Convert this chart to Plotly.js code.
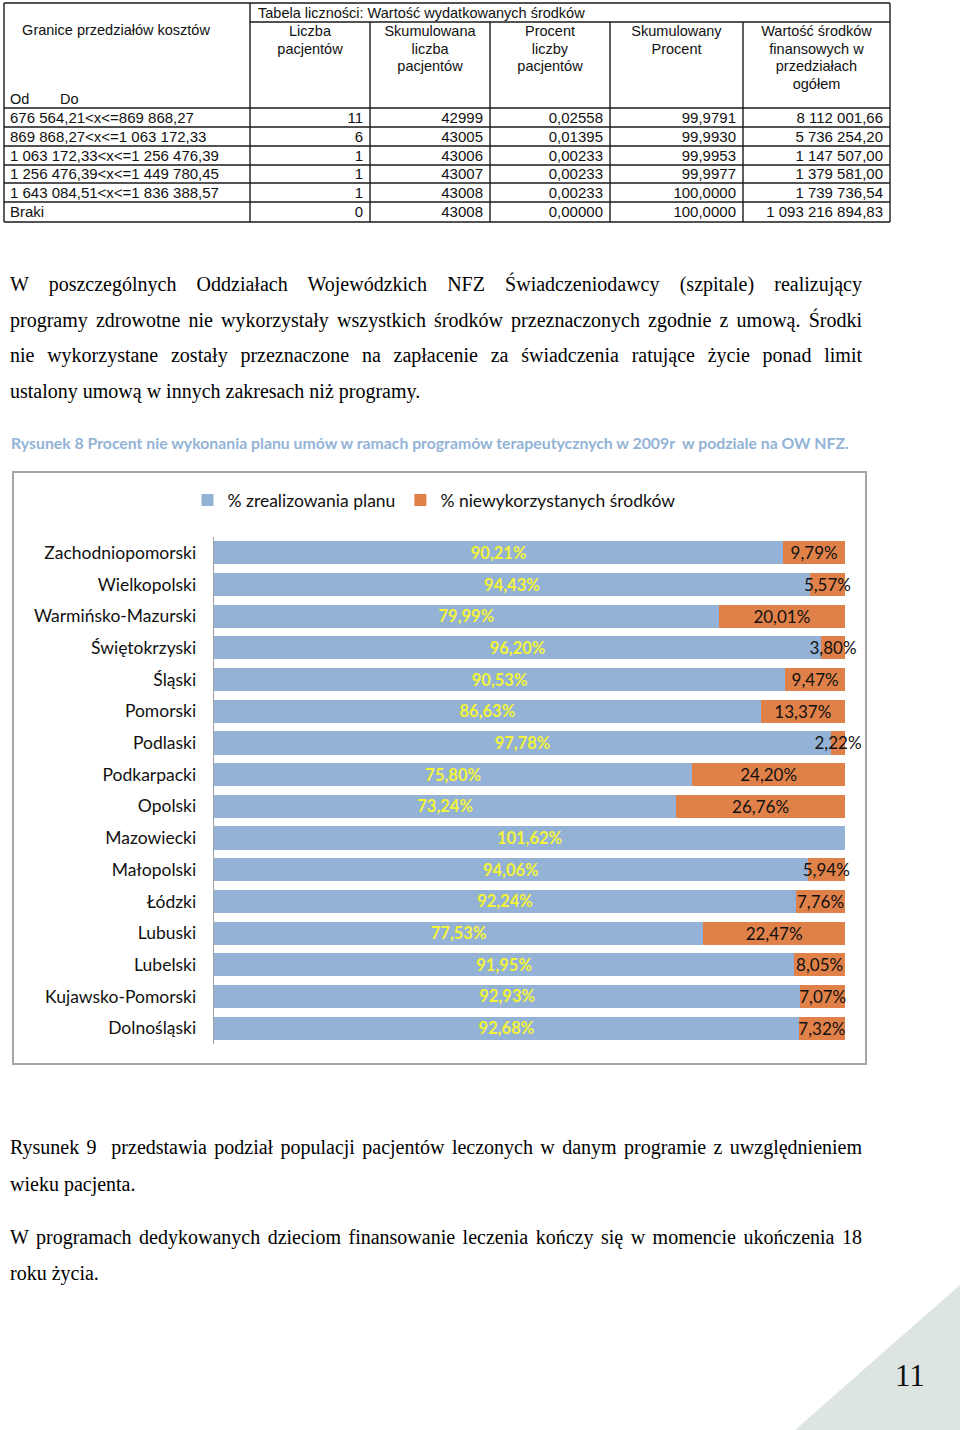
<!DOCTYPE html>
<html>
<head>
<meta charset="utf-8">
<script src="https://cdn.plot.ly/plotly-3.0.1.min.js"></script>
<style>
html,body{margin:0;padding:0;background:#fff;}
#page{position:relative;width:960px;height:1430px;overflow:hidden;background:#fff;}
#plot{position:absolute;left:0;top:0;width:960px;height:1430px;}
.ln{position:absolute;left:10px;width:852px;font-family:"Liberation Serif","Times New Roman",serif;font-size:20px;line-height:24px;color:#000;z-index:5;}
.j{text-align:justify;text-align-last:justify;}
</style>
</head>
<body>
<div id="page">
<div id="plot"></div>
<div class="ln j" style="top:272px">W poszczególnych Oddziałach Wojewódzkich NFZ Świadczeniodawcy (szpitale) realizujący</div>
<div class="ln j" style="top:308px">programy zdrowotne nie wykorzystały wszystkich środków przeznaczonych zgodnie z umową. Środki</div>
<div class="ln j" style="top:343px">nie wykorzystane zostały przeznaczone na zapłacenie za świadczenia ratujące życie ponad limit</div>
<div class="ln" style="top:379px">ustalony umową w innych zakresach niż programy.</div>
<div class="ln j" style="top:1135px">Rysunek 9&nbsp; przedstawia podział populacji pacjentów leczonych w danym programie z uwzględnieniem</div>
<div class="ln" style="top:1172px">wieku pacjenta.</div>
<div class="ln j" style="top:1225px">W programach dedykowanych dzieciom finansowanie leczenia kończy się w momencie ukończenia 18</div>
<div class="ln" style="top:1261px">roku życia.</div>
</div>
<script>
// ---------- Table data ----------
const costRanges = ["676 564,21<x<=869 868,27","869 868,27<x<=1 063 172,33","1 063 172,33<x<=1 256 476,39","1 256 476,39<x<=1 449 780,45","1 643 084,51<x<=1 836 388,57","Braki"];
const patients = [11, 6, 1, 1, 1, 0];
const cumPatients = [42999, 43005, 43006, 43007, 43008, 43008];
const pctPatients = [0.02558, 0.01395, 0.00233, 0.00233, 0.00233, 0.00000];
const cumPct = [99.9791, 99.9930, 99.9953, 99.9977, 100.0000, 100.0000];
const totalValue = [8112001.66, 5736254.20, 1147507.00, 1379581.00, 1739736.54, 1093216894.83];
const tableTitle = "Tabela liczności: Wartość wydatkowanych środków";
const firstHeader = "Granice przedziałów kosztów";
const boundLabels = ["Od", "Do"];
const colHeaders = [
  ["Liczba", "pacjentów"],
  ["Skumulowana", "liczba", "pacjentów"],
  ["Procent", "liczby", "pacjentów"],
  ["Skumulowany", "Procent"],
  ["Wartość środków", "finansowych w", "przedziałach", "ogółem"]
];

// ---------- Chart data ----------
const regions = ["Zachodniopomorski","Wielkopolski","Warmińsko-Mazurski","Świętokrzyski","Śląski","Pomorski","Podlaski","Podkarpacki","Opolski","Mazowiecki","Małopolski","Łódzki","Lubuski","Lubelski","Kujawsko-Pomorski","Dolnośląski"];
const realized = [90.21, 94.43, 79.99, 96.20, 90.53, 86.63, 97.78, 75.80, 73.24, 101.62, 94.06, 92.24, 77.53, 91.95, 92.93, 92.68];
const unused = [9.79, 5.57, 20.01, 3.80, 9.47, 13.37, 2.22, 24.20, 26.76, null, 5.94, 7.76, 22.47, 8.05, 7.07, 7.32];
const seriesNames = ["% zrealizowania planu", "% niewykorzystanych środków"];
const chartCaption = "Rysunek 8 Procent nie wykonania planu umów w ramach programów terapeutycznych w 2009r  w podziale na OW NFZ.";
const pageNumber = "11";

// ---------- helpers ----------
function fmt(v, dec, group) {
  let s = v.toFixed(dec);
  let parts = s.split(".");
  let intPart = parts[0];
  if (group) intPart = intPart.replace(/\B(?=(\d{3})+(?!\d))/g, " ");
  return parts.length > 1 ? intPart + "," + parts[1] : intPart;
}
const W = 960, H = 1430;
const px = x => x / W;
const py = y => 1 - y / H;

// ---------- table geometry (layout, in page pixels on the table axes) ----------
const TBL_H = 232;
const colEdges = [4, 250, 370, 490, 610, 743, 890];
const titleRow = [3, 22];
const rowEdges = [108, 127, 146, 165, 183, 202, 222];
const headLineY0 = 32.5, headLineStep = 17.5;
const padL = 6, padR = 7;
const textDy = 1.5;

const tblFamily = "Liberation Sans, Arial, sans-serif";
const tblFont = {family: tblFamily, size: 15, color: "#111"};
const hdrFont = {family: tblFamily, size: 14.5, color: "#111"};
const lineStyle = {color: "#1a1a1a", width: 1.4};

const traces = [];
const rowMid = i => (rowEdges[i] + rowEdges[i + 1]) / 2 + textDy;

// first column labels
traces.push({
  type: "scatter", mode: "text", xaxis: "x2", yaxis: "y2",
  x: costRanges.map(() => colEdges[0] + padL), y: costRanges.map((_, i) => rowMid(i)),
  text: costRanges, textposition: "middle right", textfont: tblFont,
  showlegend: false, hoverinfo: "skip", cliponaxis: false
});
// numeric columns
const numCols = [
  patients.map(v => fmt(v, 0, false)),
  cumPatients.map(v => fmt(v, 0, false)),
  pctPatients.map(v => fmt(v, 5, false)),
  cumPct.map(v => fmt(v, 4, false)),
  totalValue.map(v => fmt(v, 2, true))
];
const nx = [], ny = [], nt = [];
numCols.forEach((col, j) => col.forEach((t, i) => { nx.push(colEdges[j + 2] - padR); ny.push(rowMid(i)); nt.push(t); }));
traces.push({
  type: "scatter", mode: "text", xaxis: "x2", yaxis: "y2",
  x: nx, y: ny, text: nt, textposition: "middle left", textfont: tblFont,
  showlegend: false, hoverinfo: "skip", cliponaxis: false
});
// header lines
const hx = [], hy = [], ht = [];
colHeaders.forEach((lines, j) => lines.forEach((t, k) => {
  hx.push((colEdges[j + 1] + colEdges[j + 2]) / 2); hy.push(headLineY0 + k * headLineStep); ht.push(t);
}));
traces.push({
  type: "scatter", mode: "text", xaxis: "x2", yaxis: "y2",
  x: hx, y: hy, text: ht, textposition: "middle center", textfont: hdrFont,
  showlegend: false, hoverinfo: "skip", cliponaxis: false
});
// title + first header + Od/Do
traces.push({
  type: "scatter", mode: "text", xaxis: "x2", yaxis: "y2",
  x: [colEdges[1] + 8, 116, colEdges[0] + padL, colEdges[0] + 56],
  y: [(titleRow[0] + titleRow[1]) / 2 + textDy, 31.5, 100, 100],
  text: [tableTitle, firstHeader, boundLabels[0], boundLabels[1]],
  textposition: ["middle right", "middle center", "middle right", "middle right"],
  textfont: hdrFont, showlegend: false, hoverinfo: "skip", cliponaxis: false
});

// grid shapes
const shapes = [];
function hline(y, xa, xb) { shapes.push({type: "line", xref: "x2", yref: "y2", x0: xa, x1: xb, y0: y, y1: y, line: lineStyle}); }
function vline(x, ya, yb) { shapes.push({type: "line", xref: "x2", yref: "y2", x0: x, x1: x, y0: ya, y1: yb, line: lineStyle}); }
hline(titleRow[0], colEdges[0], colEdges[6]);
hline(titleRow[1], colEdges[1], colEdges[6]);
rowEdges.forEach(y => hline(y, colEdges[0], colEdges[6]));
vline(colEdges[0], titleRow[0], rowEdges[6]);
vline(colEdges[1], titleRow[0], rowEdges[6]);
for (let j = 2; j <= 5; j++) vline(colEdges[j], titleRow[1], rowEdges[6]);
vline(colEdges[6], titleRow[0], rowEdges[6]);

// bars
const chartFont = "Lato, 'Noto Sans', sans-serif";
traces.push({
  type: "bar", orientation: "h", name: seriesNames[0],
  y: regions, x: realized, customdata: realized,
  marker: {color: "#93b2d5"},
  texttemplate: "%{customdata:.2f}%", textposition: "inside", insidetextanchor: "middle",
  constraintext: "none", textangle: 0,
  textfont: {family: chartFont, size: 16.5, color: "#f3f33a", weight: "bold"},
  cliponaxis: false, hoverinfo: "skip"
});
traces.push({
  type: "bar", orientation: "h", name: seriesNames[1],
  y: regions, x: unused, customdata: unused,
  marker: {color: "#e0814a"},
  texttemplate: "%{customdata:.2f}%", textposition: "inside", insidetextanchor: "middle",
  constraintext: "none", textangle: 0,
  textfont: {family: chartFont, size: 17, color: "#111"},
  cliponaxis: false, hoverinfo: "skip"
});

shapes.push(
  {type: "rect", xref: "paper", yref: "paper", x0: px(13), x1: px(866), y0: py(1064), y1: py(472),
   line: {color: "#a6a6a6", width: 2}, fillcolor: "rgba(0,0,0,0)", layer: "below"},
  {type: "path", xref: "paper", yref: "paper",
   path: "M 1," + py(1285) + " L 1," + py(1430) + " L " + px(795) + "," + py(1430) + " Z",
   fillcolor: "#dde5e2", line: {width: 0}, layer: "below"}
);

const layout = {
  width: W, height: H,
  margin: {l: 0, r: 0, t: 0, b: 0},
  paper_bgcolor: "white", plot_bgcolor: "rgba(0,0,0,0)",
  separators: ", ",
  barmode: "stack", barnorm: "percent", bargap: 0.27,
  hovermode: false,
  showlegend: true,
  legend: {orientation: "h", x: px(434), xanchor: "center", y: py(500), yanchor: "middle",
           font: {family: chartFont, size: 17.5, color: "#111"}, itemwidth: 30, traceorder: "normal",
           bgcolor: "rgba(0,0,0,0)"},
  xaxis: {domain: [px(214), px(845)], range: [0, 100], visible: false, fixedrange: true},
  yaxis: {domain: [py(1044), py(537)], type: "category", autorange: "reversed",
          showline: true, linecolor: "#a0a0a0", linewidth: 1.3, ticks: "", showgrid: false, zeroline: false,
          ticklabelstandoff: 13, tickfont: {family: chartFont, size: 17.5, color: "#111"}, fixedrange: true},
  xaxis2: {domain: [0, 1], range: [0, W], visible: false, fixedrange: true, anchor: "y2"},
  yaxis2: {domain: [py(TBL_H), 1], range: [TBL_H, 0], visible: false, fixedrange: true, anchor: "x2"},
  shapes: shapes,
  annotations: [
    {text: chartCaption, xref: "paper", yref: "paper", x: px(9), y: py(443), xanchor: "left", yanchor: "middle",
     showarrow: false, font: {family: chartFont, size: 15.8, color: "#93b3d6", weight: "bold"}},
    {text: pageNumber, xref: "paper", yref: "paper", x: px(910), y: py(1375), xanchor: "center", yanchor: "middle",
     showarrow: false, font: {family: "Liberation Serif, serif", size: 31, color: "#111"}}
  ]
};

Plotly.newPlot("plot", traces, layout, {staticPlot: true, displayModeBar: false});
</script>
</body>
</html>
